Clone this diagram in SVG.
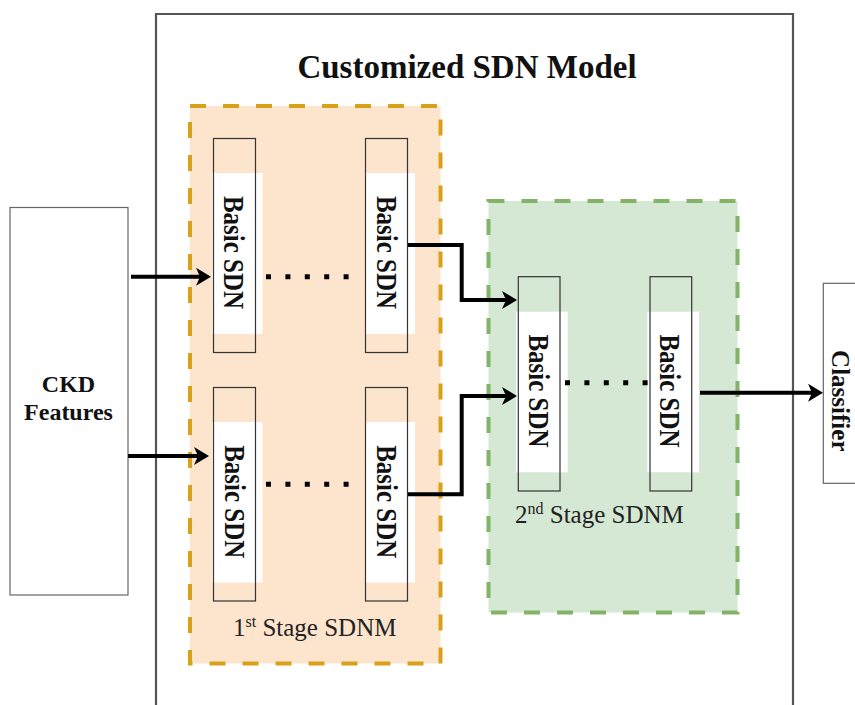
<svg xmlns="http://www.w3.org/2000/svg" width="855" height="705" viewBox="0 0 855 705">
<style>
.box{fill:#fff;stroke:#666;stroke-width:1.2}
.outline{fill:none;stroke:#333;stroke-width:1.2}
.white{fill:#fff}
.bt{font-family:"Liberation Serif","Times New Roman",serif;font-weight:bold;fill:#111}
.rt{font-family:"Liberation Serif","Times New Roman",serif;fill:#222}
.conn{fill:none;stroke:#000;stroke-width:4}
.dots{fill:none;stroke:#000;stroke-width:5;stroke-dasharray:5 14.4}
</style>
<defs>
<marker id="arr" markerUnits="userSpaceOnUse" markerWidth="16" markerHeight="20" refX="10" refY="9" orient="auto">
<path d="M0,0 L15,9 L0,18 L4,9 Z" fill="#000"/>
</marker>
</defs>
<rect width="855" height="705" fill="#fff"/>

<g id="outer">
<path d="M156,720 L156,14 L793,14 L793,720" fill="none" stroke="#555" stroke-width="2.2"/>
<text class="bt" x="467" y="78" font-size="33" text-anchor="middle">Customized SDN Model</text>
</g>

<g id="ckd">
<rect class="box" x="10" y="207.5" width="118" height="387.5"/>
<text class="bt" x="68.5" y="391.5" font-size="24" text-anchor="middle">CKD</text>
<text class="bt" x="68.5" y="420" font-size="24" text-anchor="middle">Features</text>
</g>

<g id="stage1">
<rect x="190" y="106" width="250.5" height="557.5" fill="#fde4cd" stroke="#d9a11a" stroke-width="4" stroke-dasharray="16 17"/>
<text class="rt" x="233" y="636" font-size="25">1<tspan dy="-9" font-size="16">st</tspan><tspan dy="9"> Stage SDNM</tspan></text>
</g>

<g id="stage2">
<rect x="488.5" y="201" width="249" height="411.5" fill="#d5e8d4" stroke="#82b366" stroke-width="4" stroke-dasharray="16 17"/>
<text class="rt" x="515" y="522.5" font-size="25">2<tspan dy="-9" font-size="16">nd</tspan><tspan dy="9"> Stage SDNM</tspan></text>
</g>

<g id="sdn1a">
<rect class="white" x="212" y="173" width="50.5" height="161"/>
<rect class="outline" x="213.5" y="138.5" width="42" height="214"/>
<text class="bt" font-size="25" text-anchor="middle" transform="translate(224,252.5) scale(1.18,1) rotate(90)">Basic SDN</text>
</g>
<g id="sdn1b">
<rect class="white" x="365" y="173" width="50" height="161"/>
<rect class="outline" x="365.5" y="138.5" width="42" height="214"/>
<text class="bt" font-size="25" text-anchor="middle" transform="translate(376.5,252.5) scale(1.18,1) rotate(90)">Basic SDN</text>
</g>
<g id="sdn1c">
<rect class="white" x="212" y="422" width="50.5" height="160.5"/>
<rect class="outline" x="213.5" y="387.5" width="42" height="213.5"/>
<text class="bt" font-size="25" text-anchor="middle" transform="translate(224.5,501.7) scale(1.18,1) rotate(90)">Basic SDN</text>
</g>
<g id="sdn1d">
<rect class="white" x="365" y="422" width="50" height="160.5"/>
<rect class="outline" x="365.5" y="387.5" width="42" height="213.5"/>
<text class="bt" font-size="25" text-anchor="middle" transform="translate(376.5,501.7) scale(1.18,1) rotate(90)">Basic SDN</text>
</g>
<g id="sdn2a">
<rect class="white" x="516" y="311.7" width="51.7" height="160.6"/>
<rect class="outline" x="518.3" y="276.7" width="41.7" height="214.3"/>
<text class="bt" font-size="25" text-anchor="middle" transform="translate(528.5,391) scale(1.18,1) rotate(90)">Basic SDN</text>
</g>
<g id="sdn2b">
<rect class="white" x="647.3" y="311.7" width="51.7" height="160.6"/>
<rect class="outline" x="650" y="276.7" width="41.7" height="214.3"/>
<text class="bt" font-size="25" text-anchor="middle" transform="translate(660,391) scale(1.18,1) rotate(90)">Basic SDN</text>
</g>

<g id="classifier">
<rect class="box" x="823.3" y="283.3" width="45" height="200"/>
<text class="bt" font-size="25" text-anchor="middle" transform="translate(832,400.8) rotate(90)">Classifier</text>
</g>

<g id="connectors">
<line class="dots" x1="266" y1="276.7" x2="349" y2="276.7"/>
<line class="dots" x1="266" y1="484.3" x2="349" y2="484.3"/>
<line class="dots" x1="565" y1="382.7" x2="648" y2="382.7"/>
<path class="conn" d="M131,276.7 L206,276.7" marker-end="url(#arr)"/>
<path class="conn" d="M128,456 L204,456" marker-end="url(#arr)"/>
<path class="conn" d="M408,245 L461.7,245 L461.7,300 L512,300" marker-end="url(#arr)"/>
<path class="conn" d="M408,494.3 L461.7,494.3 L461.7,396 L512,396" marker-end="url(#arr)"/>
<path class="conn" d="M700,392.7 L818,392.7" marker-end="url(#arr)"/>
</g>
</svg>
